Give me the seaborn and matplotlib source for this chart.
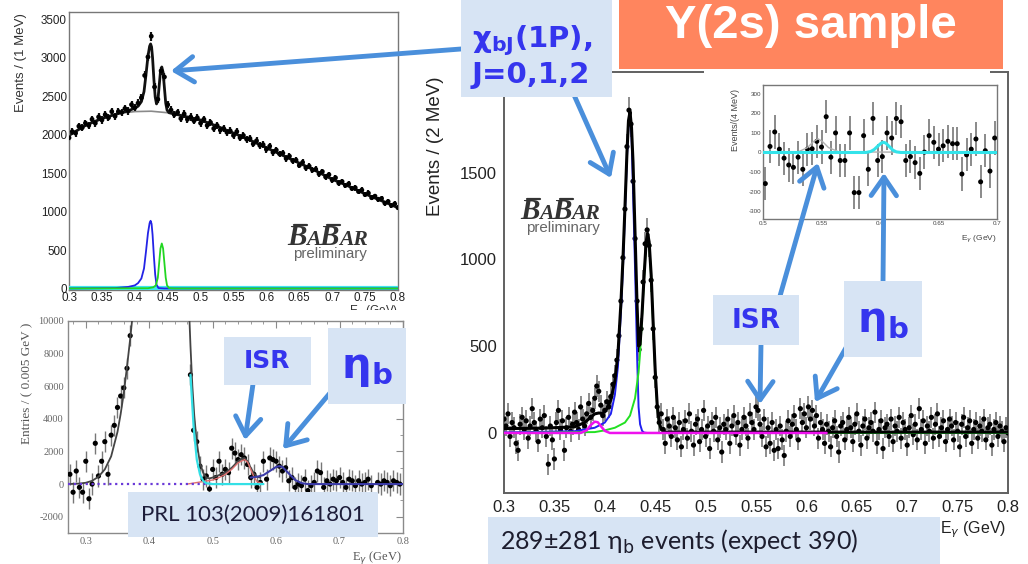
import numpy as np
import seaborn as sns
import matplotlib
matplotlib.use("Agg")
import matplotlib.pyplot as plt
from matplotlib.patches import Rectangle, FancyArrowPatch, ArrowStyle
from matplotlib.lines import Line2D
from matplotlib.transforms import IdentityTransform
from matplotlib.ticker import MultipleLocator

# ---------------------------------------------------------------- data
# Inclusive photon spectrum with chi_bJ(1P) peaks (upper left panel)
TL_E0, TL_STEP = 0.300, 0.005
TL_COUNTS = [
    1960, 2040, 2020, 2110, 2090, 2150, 2120, 2200, 2150, 2230,
    2190, 2260, 2220, 2300, 2240, 2300, 2290, 2340, 2310, 2390,
    2350, 2410, 2480, 2770, 3010, 3280, 2620, 2460, 2830, 2750,
    2390, 2320, 2260, 2290, 2210, 2270, 2200, 2230, 2180, 2220,
    2150, 2200, 2120, 2160, 2080, 2120, 2060, 2080, 2030, 2050,
    1990, 2040, 1960, 1990, 1940, 1950, 1880, 1920, 1860, 1870,
    1810, 1850, 1770, 1800, 1750, 1760, 1690, 1720, 1660, 1670,
    1600, 1640, 1570, 1590, 1540, 1550, 1490, 1520, 1450, 1480,
    1410, 1440, 1370, 1390, 1340, 1360, 1300, 1310, 1260, 1280,
    1220, 1240, 1180, 1200, 1160, 1170, 1110, 1130, 1080, 1100,
    1050,
]
TL_BKG_E0, TL_BKG_STEP = 0.300, 0.025
TL_BKG = [1990, 2120, 2210, 2275, 2300, 2305, 2285, 2240, 2190, 2110, 2020,
          1930, 1830, 1730, 1630, 1530, 1420, 1330, 1230, 1140, 1050]
TL_FIT_E = [0.300, 0.325, 0.350, 0.375, 0.390, 0.400, 0.405, 0.410, 0.414, 0.417,
            0.420, 0.4225, 0.424, 0.4255, 0.427, 0.429, 0.431, 0.433, 0.435, 0.437,
            0.439, 0.441, 0.443, 0.445, 0.447, 0.449, 0.452, 0.460, 0.475, 0.500,
            0.525, 0.550, 0.575, 0.600, 0.625, 0.650, 0.675, 0.700, 0.725, 0.750,
            0.775, 0.800]
TL_FIT = [1990, 2120, 2210, 2275, 2310, 2345, 2370, 2430, 2560, 2780,
          3020, 3150, 3180, 3140, 3000, 2720, 2490, 2400, 2440, 2630,
          2820, 2880, 2810, 2610, 2410, 2320, 2285, 2270, 2240, 2190,
          2110, 2020, 1930, 1830, 1730, 1630, 1530, 1420, 1330, 1230,
          1140, 1050]
TL_J1_E = [0.300, 0.370, 0.390, 0.400, 0.405, 0.410, 0.414, 0.417, 0.420, 0.4225,
           0.424, 0.4255, 0.427, 0.429, 0.431, 0.433, 0.436, 0.445, 0.800]
TL_J1 = [0, 5, 20, 40, 70, 130, 260, 480, 720, 850, 880, 840, 700, 420, 180, 50, 5, 0, 0]
TL_J2_E = [0.300, 0.420, 0.428, 0.432, 0.435, 0.437, 0.439, 0.441, 0.443, 0.445,
           0.447, 0.449, 0.452, 0.460, 0.800]
TL_J2 = [0, 3, 15, 40, 140, 330, 520, 585, 520, 330, 140, 40, 5, 0, 0]
TL_FLAT_E = [0.300, 0.800]
TL_FLAT = [0, 0]

# Background-subtracted spectrum, PRL 103 (2009) 161801 (lower left panel)
BL_E0, BL_STEP = 0.275, 0.005
BL_COUNTS = [
    600, -500, 800, -200, -500, 1400, -900, 0, 2500, 500,
    1400, 2600, 600, 3000, 3600, 4700, 5400, 5900, 7100, 9100,
    11500, 14500, 19000, 25000, 31000, 37000, 44000, 52000, 60000, 66000,
    62000, 50000, 46000, 52000, 49000, 38000, 24000, 13000, 6700, 3300,
    2600, 1100, 300, 500, -300, 900, 400, 1400, 600, 900,
    700, 2200, 1900, 1500, 1800, 1600, 1200, 400, 600, -200,
    100, 1400, 300, 1600, 1500, 1400, 1100, 800, 1000, 200,
    400, -200, 0, -100, 300, -400, -100, 100, 800, 700,
    -200, 200, 0, 300, 200, 400, 100, -200, 300, 200,
    -100, 200, 0, 100, 300, -100, -1200, 100, 0, 200,
    100, -100, 200, 100, 0,
]
BL_ERR = 650
BL_FIT_L_E = [0.272, 0.290, 0.300, 0.310, 0.320, 0.330, 0.340, 0.350, 0.355, 0.360,
              0.365, 0.370, 0.375, 0.380]
BL_FIT_L = [0, 30, 80, 200, 450, 900, 1700, 3200, 4300, 5600, 7200, 8900, 10800, 13000]
BL_FIT_R_E = [0.458, 0.462, 0.465, 0.468, 0.471, 0.475, 0.480, 0.485, 0.490, 0.495,
              0.500, 0.510, 0.520, 0.530, 0.540, 0.545, 0.550, 0.555, 0.560, 0.565,
              0.570, 0.575]
BL_FIT_R = [16000, 11500, 8500, 6000, 4200, 2500, 1300, 700, 400, 350,
            400, 550, 700, 1000, 1400, 1550, 1600, 1400, 1000, 650,
            450, 400]
BL_ETAB_E = [0.560, 0.570, 0.580, 0.590, 0.600, 0.605, 0.610, 0.620, 0.630, 0.640,
             0.650, 0.700, 0.750, 0.800]
BL_ETAB = [400, 450, 550, 800, 1050, 1100, 1050, 650, 250, 60, 0, 0, 0, 0]
BL_ISR_E = [0.460, 0.500, 0.510, 0.520, 0.530, 0.540, 0.550, 0.555, 0.560, 0.565,
            0.570, 0.580]
BL_ISR = [0, 250, 400, 600, 900, 1300, 1500, 1350, 900, 450, 150, 0]
BL_CHI_TAIL_E = [0.465, 0.470, 0.475, 0.480, 0.485, 0.490, 0.500, 0.580]
BL_CHI_TAIL = [6700, 3500, 1500, 600, 200, 50, 0, 0]
BL_ZERO_E = [0.272, 0.500]
BL_ZERO = [0, 0]

# Y(2S) sample after background subtraction, 2 MeV bins (right panel)
MAIN_E0, MAIN_STEP = 0.300, 0.002
MAIN_COUNTS = [
    80, 40, 110, -20, 60, 30, -60, -100, 50, 90,
    20, 70, -30, 40, 140, 60, 10, -50, 80, 30,
    100, -20, -180, 40, -40, -150, 60, 130, 20, 70,
    -100, 30, 90, 10, 50, 120, 60, 20, 150, 80,
    40, 110, 170, 90, 130, 200, 270, 240, 160, 100,
    130, 180, 150, 210, 280, 330, 420, 560, 760, 1010,
    1290, 1650, 1860, 1780, 1450, 1120, 760, 480, 600, 870,
    1090, 1170, 1080, 880, 600, 320, 150, 60, 110, 20,
    -60, 80, 40, -20, 90, 30, -40, 60, -80, 20,
    70, -30, 110, 10, -70, 50, 80, -50, 20, 130,
    -20, 40, -90, 60, 10, 90, -40, 30, -110, 50,
    20, 80, -60, 40, 100, -10, 60, -70, 20, 90,
    40, -30, 110, 60, 20, 150, 130, 50, -20, 80,
    -80, 30, -60, 60, -100, 20, -90, 40, -40, -130,
    10, 70, -20, 50, 100, 20, -40, 140, 60, 110,
    30, 150, 80, 130, 40, 100, -30, 60, 20, -60,
    50, 10, -80, 30, 70, -20, -110, 40, 60, -40,
    20, 90, 30, -50, 50, 110, 10, -70, 40, 80,
    -30, 30, 60, 10, 120, -60, 20, 70, -90, 30,
    50, -20, 80, -50, 40, 10, 90, -30, 60, 20,
    -70, 30, 100, -10, 50, -40, 140, 20, 70, -60,
    40, 10, 90, -30, 50, 110, -20, 30, 70, -50,
    20, 80, 40, -40, 60, 10, -80, 50, 90, -20,
    30, 70, -60, 20, 60, -30, 40, 10, 80, -40,
    30, 50, -70, 20, 60, -20, 40, 10, -50, 30,
    0,
]
MAIN_FIT_E = [0.300, 0.340, 0.370, 0.380, 0.385, 0.390, 0.394, 0.398, 0.402, 0.406,
              0.410, 0.413, 0.416, 0.418, 0.420, 0.422, 0.4235, 0.425, 0.4265, 0.428,
              0.430, 0.432, 0.4335, 0.435, 0.437, 0.439, 0.441, 0.4425, 0.444, 0.446,
              0.448, 0.450, 0.452, 0.454, 0.456, 0.460, 0.500, 0.800]
MAIN_FIT = [25, 28, 35, 60, 85, 110, 115, 112, 140, 190,
            300, 450, 750, 1000, 1300, 1620, 1800, 1850, 1760, 1560,
            1150, 740, 500, 510, 690, 905, 1100, 1150, 1100, 910,
            630, 360, 160, 60, 20, 5, 5, 5]
MAIN_J1_E = [0.300, 0.370, 0.390, 0.400, 0.406, 0.410, 0.413, 0.416, 0.418, 0.420,
             0.422, 0.4235, 0.425, 0.4265, 0.428, 0.430, 0.432, 0.4335, 0.435, 0.437,
             0.439, 0.442, 0.800]
MAIN_J1 = [3, 10, 30, 60, 110, 220, 380, 700, 950, 1270,
           1590, 1770, 1820, 1720, 1400, 950, 450, 150, 50, 12,
           2, 0, 0]
MAIN_J2_E = [0.300, 0.390, 0.400, 0.410, 0.420, 0.425, 0.430, 0.4335, 0.435, 0.437,
             0.439, 0.441, 0.4425, 0.444, 0.446, 0.448, 0.450, 0.452, 0.454, 0.456,
             0.460, 0.800]
MAIN_J2 = [0, 5, 15, 30, 60, 100, 200, 350, 460, 680,
           900, 1090, 1140, 1090, 900, 620, 350, 150, 55, 15,
           0, 0]
MAIN_J0_E = [0.300, 0.376, 0.382, 0.386, 0.390, 0.393, 0.396, 0.400, 0.405, 0.620]
MAIN_J0 = [0, 0, 15, 45, 65, 62, 40, 12, 0, 0]
MAIN_XTICKS = [0.3, 0.35, 0.4, 0.45, 0.5, 0.55, 0.6, 0.65, 0.7, 0.75, 0.8]
MAIN_YTICKS = [0, 500, 1000, 1500, 2000]

# Zoom on the eta_b region, 4 MeV bins (inset)
IN_E0, IN_STEP = 0.502, 0.004
IN_COUNTS = [
    -159, 31, 105, 17, -29, -64, -76, -24, -86, 17,
    19, 57, 28, 183, -24, 100, -41, -41, 100, -205,
    -205, 86, -86, 174, -41, -21, 100, 74, 174, 157,
    -41, -21, -52, -107, 2, 86, 52, 17, 34, 57,
    45, 45, -110, -12, 17, 69, -150, 9, -95, 74,
]
IN_ERR = 85
IN_ETAB_E = [0.500, 0.588, 0.592, 0.595, 0.598, 0.601, 0.603, 0.605, 0.608, 0.611,
             0.614, 0.618, 0.700]
IN_ETAB = [0, 0, 5, 15, 32, 48, 52, 48, 30, 12, 3, 0, 0]
IN_ISR_E = [0.500, 0.530, 0.538, 0.543, 0.547, 0.551, 0.556, 0.565, 0.700]
IN_ISR = [0, 3, 25, 55, 70, 55, 25, 3, 0]

# ---------------------------------------------------------------- style
sns.set_style("white")
plt.rcParams.update({
    "font.family": ["DejaVu Sans"],
    "mathtext.fontset": "dejavusans",
    "axes.unicode_minus": False,
})

W, H = 1028, 564
fig = plt.figure(figsize=(W / 100, H / 100), dpi=100)
fig.patch.set_facecolor("white")
ID = IdentityTransform()

BOX = "#d7e4f4"
BLUE_TXT = "#3535ee"
ARROW = "#4a8fdb"
ORANGE = "#ff855e"


def px_axes(x0, y0, x1, y1, **kw):
    """Axes placed by pixel box (origin at the top-left corner)."""
    return fig.add_axes([x0 / W, 1 - y1 / H, (x1 - x0) / W, (y1 - y0) / H], **kw)


def P(x, y):
    return (x, H - y)


def label(x, y, s, **kw):
    """Figure text placed in pixels from the top-left corner."""
    return fig.text(*P(x, y), s, transform=ID, **kw)


def root_frame(ax, color, lw=1.2):
    for s in ax.spines.values():
        s.set_color(color)
        s.set_linewidth(lw)
        s.set_visible(True)
    ax.set_facecolor("white")


def points(ax, e, n, err, size, ecolor, elw, zorder=3, ealpha=1.0):
    ax.errorbar(e, n, yerr=err, fmt="none", ecolor=ecolor, elinewidth=elw,
                alpha=ealpha, zorder=zorder - 0.5)
    sns.scatterplot(x=e, y=n, ax=ax, s=size, color="black", edgecolor="none",
                    linewidth=0, zorder=zorder, legend=False)


def curve(ax, e, y, color, lw, zorder=4, **kw):
    sns.lineplot(x=e, y=y, ax=ax, color=color, linewidth=lw, sort=False,
                 estimator=None, legend=False, zorder=zorder, **kw)


# ---------------------------------------------------------------- upper left
ax_tl = px_axes(69, 12, 398, 290)
root_frame(ax_tl, "#777777", 1.0)
tl_E = TL_E0 + TL_STEP * np.arange(len(TL_COUNTS))
tl_bkg_E = TL_BKG_E0 + TL_BKG_STEP * np.arange(len(TL_BKG))
curve(ax_tl, tl_bkg_E, TL_BKG, "#8a8a8a", 1.2, zorder=2)
curve(ax_tl, TL_FIT_E, TL_FIT, "#111111", 2.0, zorder=2.5)
points(ax_tl, tl_E, TL_COUNTS, np.sqrt(TL_COUNTS), 12, "#111111", 1.6)
curve(ax_tl, TL_FLAT_E, TL_FLAT, "#3ee6ee", 3.0, zorder=3)
curve(ax_tl, TL_J1_E, TL_J1, "#2323e6", 1.3, zorder=4)
curve(ax_tl, TL_J2_E, TL_J2, "#22d622", 1.3, zorder=4)
ax_tl.set_xlim(0.3, 0.8)
ax_tl.set_ylim(-20, 3595)
ax_tl.set_xticks(MAIN_XTICKS, [f"{v:g}" for v in MAIN_XTICKS],
                 fontsize=8.4, family="Liberation Sans", color="#222222")
ax_tl.set_yticks([0, 500, 1000, 1500, 2000, 2500, 3000, 3500],
                 ["0", "500", "1000", "1500", "2000", "2500", "3000", "3500"],
                 fontsize=8.4, family="Liberation Sans", color="#222222")
ax_tl.xaxis.set_minor_locator(MultipleLocator(0.01))
ax_tl.yaxis.set_minor_locator(MultipleLocator(100))
ax_tl.tick_params(which="both", direction="in", color="#777777", pad=1.5)
ax_tl.tick_params(which="major", length=6)
ax_tl.tick_params(which="minor", length=3)
ax_tl.set_xlabel("")
ax_tl.set_ylabel("")
label(21, 13, "Events / (1 MeV)", rotation=90, ha="center", va="top",
      fontsize=9.5, family="Liberation Sans", color="#333333")
label(398, 303, r"E$_\gamma$ (GeV)", ha="right", va="top",
      fontsize=8.5, family="Liberation Sans", color="#333333", zorder=0.2)

# the lower left panel sits over the upper panel's axis title
fig.add_artist(Rectangle(P(0, 564), 440, 254, transform=ID, facecolor="white",
                         edgecolor="none", zorder=0.5))

# ---------------------------------------------------------------- lower left
ax_bl = px_axes(68, 321, 403, 533, zorder=1)
root_frame(ax_bl, "#8a8a8a", 1.0)
bl_E = BL_E0 + BL_STEP * np.arange(len(BL_COUNTS))
points(ax_bl, bl_E, BL_COUNTS, BL_ERR, 14, "#777777", 1.0)
curve(ax_bl, BL_FIT_L_E, BL_FIT_L, "#444444", 1.3)
curve(ax_bl, BL_FIT_R_E, BL_FIT_R, "#444444", 1.3)
curve(ax_bl, BL_CHI_TAIL_E, BL_CHI_TAIL, "#33e0e6", 1.6, zorder=4.5)
curve(ax_bl, BL_ISR_E, BL_ISR, "#e07070", 1.0, zorder=4.2)
curve(ax_bl, BL_ETAB_E, BL_ETAB, "#3a3aa8", 1.5, zorder=4.4)
curve(ax_bl, BL_ZERO_E, BL_ZERO, "#6a3ad8", 1.6, zorder=4.3, linestyle=":")
ax_bl.set_xlim(0.272, 0.8)
ax_bl.set_ylim(-3000, 10000)
bl_xt = [0.3, 0.4, 0.5, 0.6, 0.7, 0.8]
ax_bl.set_xticks(bl_xt, [f"{v:g}" for v in bl_xt], fontsize=7.5,
                 family="Liberation Serif", color="#666666")
bl_yt = [-2000, 0, 2000, 4000, 6000, 8000, 10000]
ax_bl.set_yticks(bl_yt, [str(v) for v in bl_yt], fontsize=7.5,
                 family="Liberation Serif", color="#666666")
ax_bl.xaxis.set_minor_locator(MultipleLocator(0.02))
ax_bl.yaxis.set_minor_locator(MultipleLocator(1000))
ax_bl.tick_params(which="both", direction="in", color="#8a8a8a", top=True,
                  right=True, pad=3)
ax_bl.tick_params(which="major", length=5)
ax_bl.tick_params(which="minor", length=2.5)
ax_bl.set_xlabel("")
ax_bl.set_ylabel("")
label(27, 323, "Entries / ( 0.005 GeV )", rotation=90, ha="center",
      va="top", fontsize=9.5, family="Liberation Serif", color="#555555",
      zorder=2)
label(402, 557, r"E$_\gamma$ (GeV)", ha="right", va="center",
      fontsize=9, family="Liberation Serif", color="#555555", zorder=2)

# ---------------------------------------------------------------- right panel
ax_m = px_axes(504, 72, 1008, 493)
root_frame(ax_m, "#606060", 1.4)
main_E = MAIN_E0 + MAIN_STEP * np.arange(len(MAIN_COUNTS))
main_err = np.sqrt(np.abs(MAIN_COUNTS) + 3600.0)
points(ax_m, main_E, MAIN_COUNTS, main_err, 14, "#555555", 1.1, ealpha=0.85)
curve(ax_m, MAIN_J1_E, MAIN_J1, "#2020f0", 1.4, zorder=3.6)
curve(ax_m, MAIN_J2_E, MAIN_J2, "#22e022", 1.4, zorder=3.6)
curve(ax_m, MAIN_FIT_E, MAIN_FIT, "#000000", 2.2, zorder=3.8)
curve(ax_m, MAIN_J0_E, MAIN_J0, "#ee11ee", 1.8, zorder=4)
ax_m.set_xlim(0.3, 0.8)
ax_m.set_ylim(-346, 2080)
ax_m.set_xticks(MAIN_XTICKS, [f"{v:g}" for v in MAIN_XTICKS], fontsize=12,
                family="Liberation Sans", color="#222222")
ax_m.set_yticks(MAIN_YTICKS, [str(v) for v in MAIN_YTICKS], fontsize=12,
                family="Liberation Sans", color="#222222")
ax_m.xaxis.set_minor_locator(MultipleLocator(0.01))
ax_m.yaxis.set_minor_locator(MultipleLocator(100))
ax_m.tick_params(which="both", direction="in", color="#606060", pad=5)
ax_m.tick_params(which="major", length=9, width=1.2)
ax_m.tick_params(which="minor", length=4.5, width=1.0)
ax_m.set_xlabel("")
ax_m.set_ylabel("")
label(436, 76, "Events / (2 MeV)", rotation=90, ha="center", va="top",
      fontsize=13.5, family="Liberation Sans", color="#222222")
label(1006, 530, r"E$_\gamma$ (GeV)", ha="right", va="center",
      fontsize=11.5, family="Liberation Sans", color="#222222")
# gap in the frame top under the title banner
fig.add_artist(Rectangle(P(704, 77), 286, 8, transform=ID, facecolor="white",
                         edgecolor="none", zorder=1.5))

# ---------------------------------------------------------------- inset
ax_in = px_axes(763, 85, 997, 219, zorder=2)
root_frame(ax_in, "#777777", 1.0)
in_E = IN_E0 + IN_STEP * np.arange(len(IN_COUNTS))
points(ax_in, in_E, IN_COUNTS, IN_ERR, 13, "#8a8a8a", 1.4)
curve(ax_in, IN_ISR_E, IN_ISR, "#b0b0b0", 1.0, zorder=3.5)
curve(ax_in, IN_ETAB_E, IN_ETAB, "#33e3ea", 2.2, zorder=4)
ax_in.set_xlim(0.5, 0.7)
ax_in.set_ylim(-340, 345)
in_xt = [0.5, 0.55, 0.6, 0.65, 0.7]
ax_in.set_xticks(in_xt, [f"{v:g}" for v in in_xt], fontsize=4.5,
                 family="Liberation Sans", color="#444444")
in_yt = [-300, -200, -100, 0, 100, 200, 300]
ax_in.set_yticks(in_yt, [str(v) for v in in_yt], fontsize=4.5,
                 family="Liberation Sans", color="#444444")
ax_in.xaxis.set_minor_locator(MultipleLocator(0.01))
ax_in.yaxis.set_minor_locator(MultipleLocator(50))
ax_in.tick_params(which="both", direction="in", color="#777777", pad=1.5)
ax_in.tick_params(which="major", length=4)
ax_in.tick_params(which="minor", length=2)
ax_in.set_xlabel("")
ax_in.set_ylabel("")
label(736, 89, "Events/(4 MeV)", rotation=90, ha="center", va="top",
      fontsize=6.5, family="Liberation Sans", color="#444444", zorder=3)
label(997, 239, r"E$_\gamma$ (GeV)", ha="right", va="center",
      fontsize=6, family="Liberation Sans", color="#444444", zorder=3)

# ---------------------------------------------------------------- BaBar logos
renderer = fig.canvas.get_renderer()


def babar_logo(x, y, size):
    X, Y = P(x, y)
    for txt, scale in [("B", 1.0), ("A", 0.74), ("B", 1.0), ("AR", 0.74)]:
        t = fig.text(X, Y, txt, transform=ID, fontsize=size * scale,
                     family="Liberation Serif", weight="bold", style="italic",
                     color="#333333", zorder=3)
        bb = t.get_window_extent(renderer)
        if txt == "B":
            top = Y + size * 1.389 * 0.68
            fig.add_artist(Line2D([bb.x0 + 0.35 * bb.width, bb.x1 + 0.05 * bb.width],
                                  [top, top], transform=ID, color="#333333",
                                  lw=1.6, zorder=3))
        X = bb.x1 - 0.5
    fig.text(X, Y - size * 0.62, "preliminary", transform=ID, ha="right",
             fontsize=size * 0.52, family="Liberation Sans", color="#666666",
             zorder=3)


babar_logo(287, 245, 21)
babar_logo(520, 219, 21)

# ---------------------------------------------------------------- arrows
arrow_style = ArrowStyle("->", head_length=0.55, head_width=0.38)
ARROWS = [
    ((461, 49), (171, 71)),
    ((574, 95), (611, 178)),
    ((780, 296), (818, 163)),
    ((883, 283), (884, 173)),
    ((761, 344), (760, 404)),
    ((847, 346), (815, 402)),
    ((253, 384), (245, 440)),
    ((330, 393), (283, 449)),
]
for (a, b) in ARROWS:
    fig.add_artist(FancyArrowPatch(P(*a), P(*b), transform=ID, arrowstyle=arrow_style,
                                   mutation_scale=24, color=ARROW, lw=3.5,
                                   shrinkA=0, shrinkB=0, capstyle="round",
                                   joinstyle="round", zorder=4))

# ---------------------------------------------------------------- label boxes


def box(x0, y0, x1, y1, color):
    fig.add_artist(Rectangle(P(x0, y1), x1 - x0, y1 - y0, transform=ID,
                             facecolor=color, edgecolor="none", zorder=5))


box(619, 0, 1003, 69, ORANGE)
label(811, 38, "Y(2s) sample", ha="center", va="baseline",
      fontsize=34, weight="bold", family="Liberation Sans", color="white", zorder=6)

box(461, 0, 612, 97, BOX)
label(472, 47, r"χ$_{\mathbf{bJ}}$(1P),", ha="left", va="baseline", fontsize=21,
      weight="bold", family="DejaVu Sans", color=BLUE_TXT, zorder=6)
label(472, 83, "J=0,1,2", ha="left", va="baseline", fontsize=21,
      weight="bold", family="DejaVu Sans", color=BLUE_TXT, zorder=6)

box(713, 295, 799, 345, BOX)
label(756, 321, "ISR", ha="center", va="center", fontsize=19,
      weight="bold", family="DejaVu Sans", color=BLUE_TXT, zorder=6)
box(844, 281, 922, 357, BOX)
label(883, 322, r"η$_{\mathbf{b}}$", ha="center", va="center", fontsize=30,
      weight="bold", family="DejaVu Sans", color=BLUE_TXT, zorder=6)

box(224, 337, 311, 385, BOX)
label(267, 361, "ISR", ha="center", va="center", fontsize=18,
      weight="bold", family="DejaVu Sans", color=BLUE_TXT, zorder=6)
box(328, 328, 406, 404, BOX)
label(367, 368, r"η$_{\mathbf{b}}$", ha="center", va="center", fontsize=30,
      weight="bold", family="DejaVu Sans", color=BLUE_TXT, zorder=6)

box(128, 492, 378, 537, BOX)
label(253, 515, "PRL 103(2009)161801", ha="center", va="center", fontsize=16,
      family=["Lato", "DejaVu Sans"], color="#1d1d3a", zorder=6)

box(488, 517, 940, 564, BOX)
label(500, 550, r"289±281 η$_\mathrm{b}$ events (expect 390)", ha="left",
      va="baseline", fontsize=18, family=["Lato", "DejaVu Sans"],
      color="#1d1d2e", zorder=6)

fig.savefig("out.png", dpi=100, facecolor="white")
